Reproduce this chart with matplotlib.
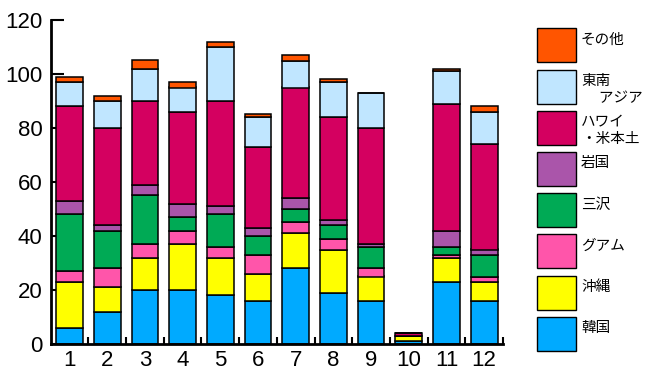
import matplotlib
matplotlib.use("Agg")
import matplotlib.pyplot as plt
from matplotlib.patches import Rectangle
import numpy as np

plt.rcParams['font.family'] = ['Noto Sans CJK JP', 'DejaVu Sans']

months = ['1', '2', '3', '4', '5', '6', '7', '8', '9', '10', '11', '12']
series_names = ['韓国', '沖縄', 'グアム', '三沢', '岩国', 'ハワイ\n・米本土', '東南\n　 アジア', 'その他']
kankoku = [6, 12, 20, 20, 18, 16, 28, 19, 16, 1, 23, 16]
okinawa = [17, 9, 12, 17, 14, 10, 13, 16, 9, 2, 9, 7]
guam    = [4, 7, 5, 5, 4, 7, 4, 4, 3, 0, 1, 2]
misawa  = [21, 14, 18, 5, 12, 7, 5, 5, 8, 0, 3, 8]
iwakuni = [5, 2, 4, 5, 3, 3, 4, 2, 1, 0, 6, 2]
hawaii  = [35, 36, 31, 34, 39, 30, 41, 38, 43, 1, 47, 39]
seasia  = [9, 10, 12, 9, 20, 11, 10, 13, 13, 0, 12, 12]
other   = [2, 2, 3, 2, 2, 1, 2, 1, 0, 0, 1, 2]
yticks = [0, 20, 40, 60, 80, 100, 120]

series = [kankoku, okinawa, guam, misawa, iwakuni, hawaii, seasia, other]
colors = ['#00AAFF', '#FFFF00', '#FF55AA', '#00AA55', '#AA55AA', '#D40060', '#C0E6FF', '#FF5500']

W, H = 651, 373
fig = plt.figure(figsize=(W / 100, H / 100), dpi=100)
left, bottom, right, top = 50.7, 344, 503, 20
ax = fig.add_axes([left / W, 1 - bottom / H, (right - left) / W, (bottom - top) / H])

x = np.arange(1, len(months) + 1)
base = np.zeros(len(months))
for vals, c in zip(series, colors):
    v = np.array(vals, dtype=float)
    ax.bar(x, v, bottom=base, width=0.71, color=c, edgecolor='black', linewidth=1.1, zorder=2)
    base += v

ax.set_xlim(0.5, 12.5)
ax.set_ylim(0, 120)
ax.set_axisbelow(True)
for s in ['top', 'right']:
    ax.spines[s].set_visible(False)
ax.spines['left'].set_linewidth(2)
ax.spines['bottom'].set_linewidth(2)

ax.set_yticks(yticks)
ax.set_yticklabels([str(t) for t in yticks], fontsize=16, family='Liberation Sans')
ax.tick_params(axis='y', direction='in', length=9, width=1.5, pad=6)

ax.set_xticks(np.arange(1.5, 12.6, 1.0))
ax.set_xticklabels([])
ax.tick_params(axis='x', which='major', direction='in', length=5, width=1.5)
ax.set_xticks(x, minor=True)
ax.set_xticklabels(months, minor=True, fontsize=16, family='Liberation Sans')
ax.tick_params(axis='x', which='minor', length=0, pad=4)

# legend drawn at right
lax = fig.add_axes([0, 0, 1, 1])
lax.set_xlim(0, W)
lax.set_ylim(H, 0)
lax.axis('off')
for i in range(len(series_names)):
    idx = len(series_names) - 1 - i
    y0 = 28.3 + i * 41.2
    lax.add_patch(Rectangle((537.3, y0), 38.7, 34, facecolor=colors[idx],
                            edgecolor='black', linewidth=1.0))
    lax.text(581, y0 + 4.5, series_names[idx], fontsize=10.5, va='top', ha='left',
             linespacing=1.3)

fig.savefig('out.png', dpi=100)
